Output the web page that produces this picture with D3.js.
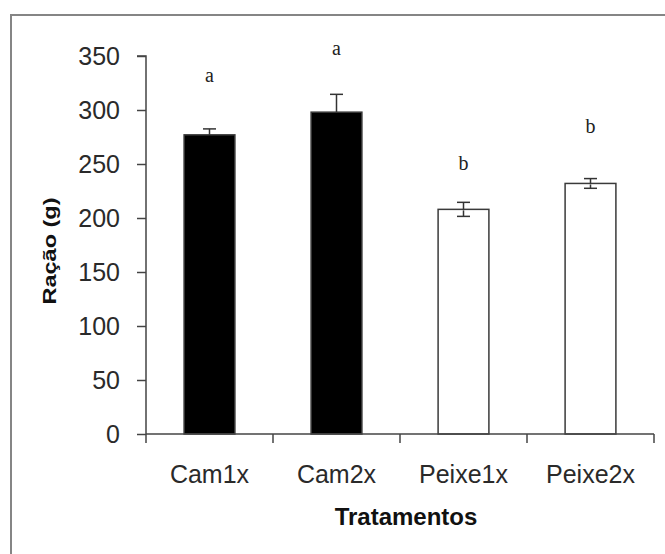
<!DOCTYPE html>
<html lang="pt">
<head>
<meta charset="UTF-8">
<script src="https://cdn.jsdelivr.net/npm/d3@7"></script>
<style>
    * { margin: 0; padding: 0; }
    body { background: #fff; font-family: "Liberation Sans", Arial, sans-serif; }
    svg { display: block; }
</style>
</head>
<body>
<div id="chart"></div>
<script>
    // dados
    var tratamentos = ["Cam1x", "Cam2x", "Peixe1x", "Peixe2x"];
    var racao = [277, 298, 208, 232];
    var erro = [5.5, 16.5, 6.5, 4.5];
    var letras = ["a", "a", "b", "b"];
    var letraPos = [326, 351, 244, 279];   // altura das letras (em g)
    var preenchimento = ["#000", "#000", "#fff", "#fff"];
    var yTicks = [0, 50, 100, 150, 200, 250, 300, 350];

    var w = 665, h = 554;
    // (nao usar "top": conflita com window.top)
    var plotLeft = 146, plotRight = 654, plotTop = 56, plotBottom = 434;

    var svg = d3.select("#chart").append("svg")
        .attr("width", w)
        .attr("height", h);

    // moldura (passa da borda direita e de baixo)
    svg.append("rect")
        .attr("x", 11)
        .attr("y", 15)
        .attr("width", 700)
        .attr("height", 600)
        .attr("fill", "none")
        .attr("stroke", "#858585")
        .attr("stroke-width", 2);

    var xScale = d3.scaleBand()
        .domain(tratamentos)
        .range([plotLeft, plotRight])
        .paddingInner(0.6)
        .paddingOuter(0.3);

    var yScale = d3.scaleLinear()
        .domain([0, 350])
        .range([plotBottom, plotTop]);

    // barras
    svg.append("g")
        .selectAll("rect")
        .data(tratamentos)
        .enter()
        .append("rect")
        .attr("x", function(d) { return xScale(d); })
        .attr("y", function(d, i) { return yScale(racao[i]); })
        .attr("width", xScale.bandwidth())
        .attr("height", function(d, i) { return plotBottom - yScale(racao[i]); })
        .attr("fill", function(d, i) { return preenchimento[i]; })
        .attr("stroke", "#3a3a3a")
        .attr("stroke-width", 1.5);

    // barras de erro (a parte de baixo some dentro das barras pretas)
    var eb = svg.append("g")
        .attr("stroke", "#333")
        .attr("stroke-width", 1.5);
    tratamentos.forEach(function(d, i) {
        var cx = xScale(d) + xScale.bandwidth() / 2;
        var ym = yScale(racao[i]);
        var y1 = yScale(racao[i] + erro[i]);
        var y0 = yScale(racao[i] - erro[i]);
        var cap = 6.5;
        var corBaixo = preenchimento[i] == "#000" ? "#000" : "#333";
        eb.append("line").attr("x1", cx).attr("x2", cx).attr("y1", ym).attr("y2", y1);
        eb.append("line").attr("x1", cx - cap).attr("x2", cx + cap).attr("y1", y1).attr("y2", y1);
        eb.append("line").attr("x1", cx).attr("x2", cx).attr("y1", ym + 1).attr("y2", y0)
            .attr("stroke", corBaixo);
        eb.append("line").attr("x1", cx - cap).attr("x2", cx + cap).attr("y1", y0).attr("y2", y0)
            .attr("stroke", corBaixo);
    });

    // letras
    svg.append("g")
        .selectAll("text")
        .data(letras)
        .enter()
        .append("text")
        .attr("x", function(d, i) { return xScale(tratamentos[i]) + xScale.bandwidth() / 2; })
        .attr("y", function(d, i) { return yScale(letraPos[i]); })
        .attr("text-anchor", "middle")
        .attr("font-family", "'Liberation Serif', 'Times New Roman', serif")
        .attr("font-size", "20px")
        .attr("fill", "#222")
        .text(function(d) { return d; });

    // eixo y
    var yAxis = d3.axisLeft(yScale)
        .tickValues(yTicks)
        .tickSize(9)
        .tickPadding(17);

    svg.append("g")
        .attr("transform", "translate(" + plotLeft + ",0)")
        .call(yAxis)
        .call(function(g) {
            g.select(".domain").attr("stroke", "#444").attr("stroke-width", 1.5)
                .attr("d", "M-9," + plotTop + "H0V" + plotBottom);
            g.selectAll(".tick line").attr("stroke", "#444").attr("stroke-width", 1.5);
            g.selectAll(".tick text")
                .attr("font-family", "'Liberation Sans', Arial, sans-serif")
                .attr("font-size", "25px")
                .attr("fill", "#2a2a2a");
        });

    // eixo x (marcas entre as categorias, estilo Excel)
    var xAxis = d3.axisBottom(xScale).tickSize(0).tickPadding(31);

    svg.append("g")
        .attr("transform", "translate(0," + plotBottom + ")")
        .call(xAxis)
        .call(function(g) {
            g.select(".domain").attr("stroke", "#444").attr("stroke-width", 1.5)
                .attr("d", "M" + plotLeft + ",0H" + plotRight);
            g.selectAll(".tick text")
                .attr("font-family", "'Liberation Sans', Arial, sans-serif")
                .attr("font-size", "25px")
                .attr("fill", "#2a2a2a");
        });

    var step = xScale.step();
    var bordas = d3.range(tratamentos.length + 1).map(function(i) { return plotLeft + i * step; });
    svg.append("g")
        .selectAll("line")
        .data(bordas)
        .enter()
        .append("line")
        .attr("x1", function(d) { return d; })
        .attr("x2", function(d) { return d; })
        .attr("y1", plotBottom)
        .attr("y2", plotBottom + 9)
        .attr("stroke", "#444")
        .attr("stroke-width", 1.5);

    // títulos dos eixos
    svg.append("text")
        .attr("x", 406)
        .attr("y", 525)
        .attr("text-anchor", "middle")
        .attr("font-family", "'Liberation Sans', Arial, sans-serif")
        .attr("font-weight", "bold")
        .attr("font-size", "24px")
        .attr("fill", "#111")
        .text("Tratamentos");

    svg.append("text")
        .attr("transform", "translate(56," + ((plotTop + plotBottom) / 2 + 6) + ") rotate(-90)")
        .attr("text-anchor", "middle")
        .attr("font-family", "'Liberation Sans', Arial, sans-serif")
        .attr("font-weight", "bold")
        .attr("font-size", "18px")
        .attr("textLength", 107)
        .attr("lengthAdjust", "spacingAndGlyphs")
        .attr("fill", "#111")
        .text("Ração (g)");
</script>
</body>
</html>
